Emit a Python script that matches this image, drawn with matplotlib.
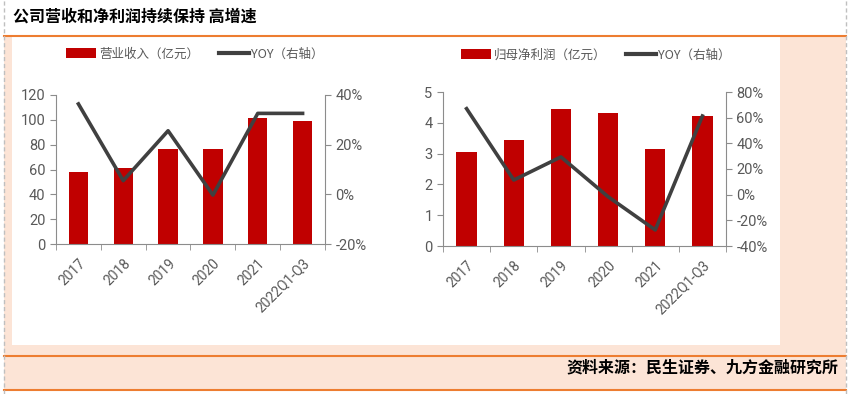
import matplotlib.pyplot as plt
from matplotlib.patches import Rectangle, Patch
from matplotlib.lines import Line2D
import matplotlib.ticker as mticker

plt.rcParams['font.family'] = ['Noto Sans CJK SC', 'DejaVu Sans']

# data
years = ['2017', '2018', '2019', '2020', '2021', '2022Q1-Q3']
revenue = [58.2, 61.4, 76.8, 76.5, 101.5, 98.8]          # 营业收入（亿元）
revenue_yoy = [36.4, 5.5, 25.6, -0.3, 32.6, 32.6]         # %
profit = [3.06, 3.43, 4.44, 4.32, 3.14, 4.23]             # 归母净利润（亿元）
profit_yoy = [67.0, 11.4, 29.4, -1.6, -27.5, 61.3]        # %

W, H = 849, 394
fig = plt.figure(figsize=(W / 100, H / 100), dpi=100)

orange = '#ED7D31'
peach = '#FCE4D6'
bar_red = '#C00000'
line_gray = '#404040'
axis_gray = '#8C8C8C'
text_gray = '#595959'
num_font = ['Roboto', 'DejaVu Sans']


def px(x0, y0, x1, y1):
    # pixel box (from top-left) -> figure fraction rect
    return [x0 / W, 1 - y1 / H, (x1 - x0) / W, (y1 - y0) / H]


# background frame
r = px(4, 37, 846, 390)
fig.add_artist(Rectangle((r[0], r[1]), r[2], r[3], transform=fig.transFigure,
                         facecolor=peach, edgecolor='none', zorder=0))
r = px(12, 37, 780, 345)
fig.add_artist(Rectangle((r[0], r[1]), r[2], r[3], transform=fig.transFigure,
                         facecolor='white', edgecolor='none', zorder=0))
for yy in [36, 356, 390]:
    fig.add_artist(Line2D([4 / W, 846 / W], [1 - yy / H] * 2, transform=fig.transFigure,
                          color=orange, lw=1.5, zorder=1))
for xx in [3.5, 846]:
    fig.add_artist(Line2D([xx / W] * 2, [0, 1], transform=fig.transFigure,
                          color='#BFBFBF', lw=1, ls=(0, (3, 2)), zorder=1))

fig.text(13 / W, 1 - 17 / H, '公司营收和净利润持续保持 高增速', fontsize=11.5,
         fontweight='bold', va='center', ha='left', color='black')
fig.text(838 / W, 1 - 367 / H, '资料来源：民生证券、九方金融研究所', fontsize=11.5,
         fontweight='bold', va='center', ha='right', color='black')


def draw(rect, bars, yoy, ylim, yticks, y2lim, y2ticks, bar_label, leg_center):
    ax = fig.add_axes(px(*rect))
    ax.set_facecolor('none')
    x = list(range(len(years)))
    ax.bar(x, bars, width=0.43, color=bar_red, zorder=2)
    ax.set_xlim(-0.5, len(years) - 0.5)
    ax.set_ylim(*ylim)
    ax.set_yticks(yticks)
    ax.set_xticks(x)
    ax.set_xticklabels(years, rotation=45, ha='right', rotation_mode='anchor',
                       fontsize=10, color=text_gray, family=num_font)
    ax.set_xticks([i - 0.5 for i in range(len(years) + 1)], minor=True)
    ax.tick_params(axis='x', which='major', length=0, pad=9)
    ax.tick_params(axis='x', which='minor', length=4, color=axis_gray, direction='out')
    ax.tick_params(axis='y', length=4, color=axis_gray, labelsize=10.5, labelcolor=text_gray)
    for lab in ax.get_yticklabels():
        lab.set_family(num_font)
    for s in ['top', 'right']:
        ax.spines[s].set_visible(False)
    for s in ['left', 'bottom']:
        ax.spines[s].set_color(axis_gray)

    ax2 = ax.twinx()
    ax2.plot(x, yoy, color=line_gray, lw=2.6, zorder=3)
    ax2.set_ylim(*y2lim)
    ax2.set_yticks(y2ticks)
    ax2.yaxis.set_major_formatter(mticker.FuncFormatter(lambda v, p: f'{v:.0f}%'))
    ax2.tick_params(axis='y', length=4, color=axis_gray, labelsize=10.5, labelcolor=text_gray)
    for lab in ax2.get_yticklabels():
        lab.set_family(num_font)
    for s in ['top', 'left', 'bottom']:
        ax2.spines[s].set_visible(False)
    ax2.spines['right'].set_color(axis_gray)

    handles = [Patch(facecolor=bar_red, edgecolor='none'),
               Line2D([], [], color=line_gray, lw=3)]
    fig.legend(handles, [bar_label, 'YOY（右轴）'], loc='center',
               bbox_to_anchor=(leg_center[0] / W, 1 - leg_center[1] / H),
               ncol=2, frameon=False, fontsize=9, handlelength=2.4, handleheight=0.8,
               handletextpad=0.2, columnspacing=1.6, labelcolor=text_gray)


draw((56, 95, 325, 244), revenue, revenue_yoy, (0, 120), range(0, 121, 20),
     (-20, 40), range(-20, 41, 20), '营业收入（亿元）', (195, 54))
draw((443, 92, 726, 246), profit, profit_yoy, (0, 5), range(0, 6),
     (-40, 80), range(-40, 81, 20), '归母净利润（亿元）', (596, 55))

fig.savefig('out.png', dpi=100)
